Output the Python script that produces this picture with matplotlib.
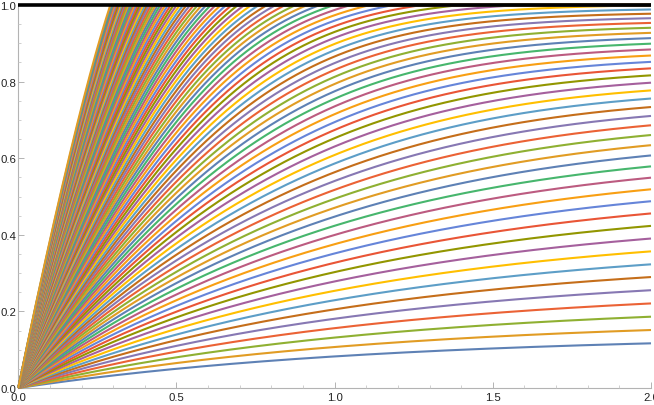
import numpy as np
import matplotlib
matplotlib.use("Agg")
import matplotlib.pyplot as plt

# Initial slope of each curve (bottom curve first)
slopes = [0.124, 0.161, 0.198, 0.235, 0.272, 0.309, 0.345, 0.382, 0.419, 0.456,
          0.493, 0.530, 0.567, 0.604, 0.641, 0.678, 0.714, 0.751, 0.788, 0.825,
          0.862, 0.899, 0.936, 0.973, 1.010, 1.047, 1.083, 1.120, 1.157, 1.194,
          1.231, 1.268, 1.305, 1.342, 1.379, 1.416, 1.452, 1.489, 1.526, 1.563,
          1.600, 1.637, 1.674, 1.711, 1.748, 1.785, 1.821, 1.858, 1.895, 1.932,
          1.969, 2.006, 2.043, 2.080, 2.117, 2.154, 2.190, 2.227, 2.264, 2.301,
          2.338, 2.375, 2.412, 2.449, 2.486, 2.523, 2.559, 2.596, 2.633, 2.670,
          2.707, 2.744, 2.781, 2.818, 2.855, 2.892, 2.928, 2.965, 3.002, 3.039,
          3.076, 3.113, 3.150, 3.187, 3.224, 3.261, 3.297, 3.334, 3.371, 3.408,
          3.445, 3.482, 3.519, 3.556, 3.593, 3.630, 3.666, 3.703, 3.740, 3.777,
          3.814, 3.851, 3.888, 3.925, 3.962, 3.999, 4.035]
x_range = [0.0, 2.0]
x_ticks = [0.0, 0.5, 1.0, 1.5, 2.0]
y_ticks = [0.0, 0.2, 0.4, 0.6, 0.8, 1.0]
x_tick_labels = ["0.0", "0.5", "1.0", "1.5", "2.0"]
y_tick_labels = ["0.0", "0.2", "0.4", "0.6", "0.8", "1.0"]

palette = ["#5E81B5", "#E19C24", "#8FB032", "#EB6235", "#8778B3", "#C56E1A",
           "#5D9EC7", "#FFBF00", "#A5609D", "#929600", "#E95536", "#6685D9",
           "#F89F13", "#BC5B80", "#47B66D"]

# Saturating response: dy/dx = c - F(y)
def loss(y):
    return 0.88 * y + 0.6 * np.abs(y) ** 4.5

c = np.array(slopes)
x = np.linspace(x_range[0], x_range[1], 2001)
h = x[1] - x[0]
Y = np.zeros((len(x), len(c)))
y = np.zeros(len(c))
for k in range(1, len(x)):
    f = lambda v: c - loss(v)
    k1 = f(y); k2 = f(y + h * k1 / 2); k3 = f(y + h * k2 / 2); k4 = f(y + h * k3)
    y = y + h * (k1 + 2 * k2 + 2 * k3 + k4) / 6
    Y[k] = y
Y = np.minimum(Y, 1.0)

W, H = 654, 406
fig = plt.figure(figsize=(W / 100, H / 100), dpi=100)
ax = fig.add_axes([0, 0, 1, 1])
x0px, x2px = 18.3, 651.0
y0px, y1px = 389.0, 6.0
sx = (x2px - x0px) / 2.0
sy = (y0px - y1px) / 1.0
ax.set_xlim(-x0px / sx, 2.0 + (W - x2px) / sx)
ax.set_ylim(-(H - y0px) / sy, 1.0 + y1px / sy)

for i in range(len(c)):
    ax.plot(x, Y[:, i], color=palette[i % len(palette)], lw=1.5,
            solid_capstyle="butt", zorder=2)
ax.plot(x_range, [1, 1], color="black", lw=2.6, solid_capstyle="butt", zorder=3)

for s in ["top", "right"]:
    ax.spines[s].set_visible(False)
ax.spines["left"].set_position(("data", 0))
ax.spines["bottom"].set_position(("data", 0))
ax.spines["left"].set_bounds(0, 1)
ax.spines["bottom"].set_bounds(0, 2)
for s in ["left", "bottom"]:
    ax.spines[s].set_color("#b3b3b3")
    ax.spines[s].set_linewidth(0.8)
    ax.spines[s].set_zorder(1)

ax.set_xticks(x_ticks)
ax.set_xticklabels(x_tick_labels)
ax.set_yticks(y_ticks)
ax.set_yticklabels(y_tick_labels)
ax.set_xticks(np.arange(0.1, 2.0, 0.1), minor=True)
ax.set_yticks(np.arange(0.05, 1.0, 0.05), minor=True)
ax.tick_params(which="major", direction="in", length=4, width=0.7, color="#b3b3b3",
               labelsize=8.2, labelcolor="#222222")
ax.tick_params(which="minor", direction="in", length=2.5, width=0.6, color="#c8c8c8")
ax.tick_params(axis="x", pad=3)
ax.tick_params(axis="y", pad=1.5)
for lab in ax.get_xticklabels() + ax.get_yticklabels():
    lab.set_family("Liberation Sans")

fig.savefig("out.png", dpi=100)
